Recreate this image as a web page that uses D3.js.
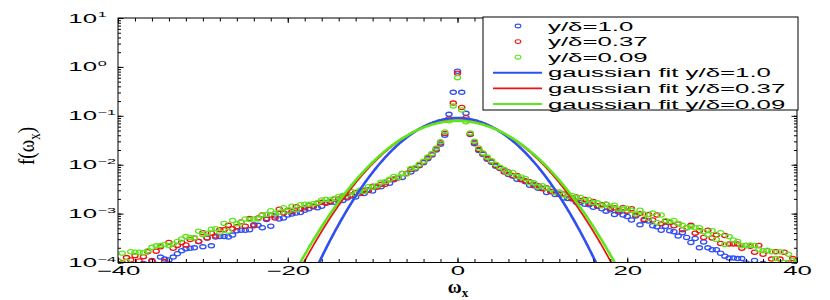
<!DOCTYPE html>
<html lang="en">
<head>
<meta charset="UTF-8">
<title>f(omega_x)</title>
<script src="https://cdnjs.cloudflare.com/ajax/libs/d3/7.8.5/d3.min.js"></script>
<style>
body { margin: 0; background: #fff; }
svg { display: block; font-family: "Liberation Sans", Arial, sans-serif; }
</style>
</head>
<body>
<svg width="830" height="300"></svg>
<script>
// bin centres of omega_x
var omega = [-40,-39.5,-39,-38.5,-38,-37.5,-37,-36.5,-36,-35.5,-35,-34.5,-34,-33.5,-33,-32.5,-32,-31.5,-31,-30.5,
  -30,-29.5,-29,-28.5,-28,-27.5,-27,-26.5,-26,-25.5,-25,-24.5,-24,-23.5,-23,-22.5,-22,-21.5,-21,-20.5,
  -20,-19.5,-19,-18.5,-18,-17.5,-17,-16.5,-16,-15.5,-15,-14.5,-14,-13.5,-13,-12.5,-12,-11.5,-11,-10.5,
  -10,-9.5,-9,-8.5,-8,-7.5,-7,-6.5,-6,-5.5,-5,-4.5,-4,-3.5,-3,-2.5,-2,-1.5,-1,-0.5,
  0,
  0.5,1,1.5,2,2.5,3,3.5,4,4.5,5,5.5,6,6.5,7,7.5,8,8.5,9,9.5,10,
  10.5,11,11.5,12,12.5,13,13.5,14,14.5,15,15.5,16,16.5,17,17.5,18,18.5,19,19.5,20,
  20.5,21,21.5,22,22.5,23,23.5,24,24.5,25,25.5,26,26.5,27,27.5,28,28.5,29,29.5,30,
  30.5,31,31.5,32,32.5,33,33.5,34,34.5,35,35.5,36,36.5,37,37.5,38,38.5,39,39.5,40];

// log10 f(omega_x), one value per bin (null = empty bin)
var logBlue = [null,null,-4.15,null,-4.10,-4.20,-4.02,-4.08,-3.98,-4.04,
  -3.89,-3.93,-3.95,-3.89,-3.82,-3.76,-3.72,-3.71,-3.70,-3.57,
  -3.68,-3.50,-3.66,-3.48,-3.47,-3.47,-3.48,-3.44,-3.35,-3.34,
  -3.34,-3.33,-3.23,-3.24,-3.29,-3.12,-3.26,-3.05,-3.11,-3.09,
  -3.03,-3.01,-2.99,-2.98,-2.93,-2.90,-2.86,-2.88,-2.85,-2.78,
  -2.77,-2.77,-2.74,-2.73,-2.68,-2.64,-2.66,-2.56,-2.59,-2.51,
  -2.54,-2.44,-2.45,-2.36,-2.38,-2.31,-2.26,-2.26,-2.18,-2.15,
  -2.09,-2.02,-1.96,-1.88,-1.80,-1.70,-1.58,-1.40,-0.97,-0.52,
  -0.09,
  -0.52,-0.95,-1.38,-1.57,-1.71,-1.79,-1.89,-1.95,-2.03,-2.08,
  -2.11,-2.20,-2.23,-2.30,-2.30,-2.35,-2.42,-2.40,-2.48,-2.48,
  -2.57,-2.55,-2.61,-2.60,-2.68,-2.69,-2.70,-2.77,-2.77,-2.81,
  -2.82,-2.87,-2.85,-2.90,-2.95,-2.92,-3.02,-2.97,-3.03,-3.06,
  -3.13,-3.05,-3.23,-3.14,-3.15,-3.25,-3.27,-3.34,-3.26,-3.35,
  -3.37,-3.46,-3.39,-3.49,-3.59,-3.51,-3.70,-3.58,-3.70,-3.74,
  -3.74,-3.81,-3.87,-3.91,-3.91,-3.92,-3.92,-4.01,-4.04,-3.96,
  -4.08,-4.02,-4.12,null,null,null,null,null,null,null];

var logRed = [-3.97,-4.01,-3.90,-3.95,-3.86,-3.97,-3.88,-3.78,-3.96,-3.77,
  -3.68,-3.98,-3.59,-3.71,-3.65,-3.59,-3.64,-3.53,-3.50,-3.57,
  -3.39,-3.50,-3.40,-3.46,-3.33,-3.33,-3.24,-3.31,-3.27,-3.17,
  -3.26,-3.10,-3.25,-3.09,-3.03,-3.10,-3.03,-3.09,-2.91,-2.99,
  -2.93,-2.96,-2.86,-2.90,-2.88,-2.83,-2.85,-2.79,-2.77,-2.79,
  -2.76,-2.70,-2.70,-2.64,-2.66,-2.62,-2.57,-2.59,-2.52,-2.53,
  -2.44,-2.46,-2.40,-2.40,-2.31,-2.29,-2.27,-2.18,-2.18,-2.10,
  -2.07,-2.01,-1.94,-1.86,-1.78,-1.68,-1.55,-1.36,-1.06,-0.74,
  -0.13,
  -0.83,-1.04,-1.37,-1.54,-1.69,-1.77,-1.87,-1.93,-2.01,-2.07,
  -2.15,-2.15,-2.22,-2.22,-2.31,-2.33,-2.35,-2.43,-2.43,-2.49,
  -2.47,-2.55,-2.56,-2.61,-2.60,-2.64,-2.69,-2.66,-2.73,-2.71,
  -2.79,-2.75,-2.84,-2.82,-2.81,-2.89,-2.88,-2.94,-2.88,-2.95,
  -2.90,-3.03,-3.00,-3.12,-3.02,-3.13,-3.03,-3.21,-3.16,-3.18,
  -3.25,-3.21,-3.33,-3.29,-3.24,-3.40,-3.35,-3.49,-3.34,-3.50,
  -3.44,-3.61,-3.45,-3.62,-3.62,-3.62,-3.71,-3.65,-3.67,-3.79,
  -3.65,-3.83,-3.76,-3.93,-3.78,-3.93,-3.79,-4.01,-3.92,-3.97];

var logGreen = [-3.97,-3.81,-3.98,-3.78,-3.79,-3.79,-3.80,-3.76,-3.69,-3.66,
  -3.65,-3.63,-3.65,-3.62,-3.57,-3.52,-3.47,-3.49,-3.50,-3.36,
  -3.43,-3.40,-3.32,-3.31,-3.38,-3.20,-3.36,-3.14,-3.21,-3.18,
  -3.11,-3.12,-3.11,-3.11,-3.03,-3.02,-2.94,-3.00,-2.97,-2.88,
  -2.95,-2.85,-2.92,-2.82,-2.81,-2.81,-2.80,-2.78,-2.72,-2.71,
  -2.72,-2.69,-2.65,-2.63,-2.61,-2.55,-2.60,-2.52,-2.55,-2.45,
  -2.46,-2.43,-2.36,-2.35,-2.30,-2.24,-2.26,-2.18,-2.19,-2.08,
  -2.06,-1.99,-1.93,-1.84,-1.77,-1.66,-1.53,-1.33,-1.10,-0.80,
  -0.22,
  -0.88,-1.12,-1.35,-1.52,-1.66,-1.76,-1.84,-1.92,-1.99,-2.05,
  -2.10,-2.17,-2.16,-2.24,-2.25,-2.28,-2.37,-2.37,-2.45,-2.43,
  -2.48,-2.49,-2.57,-2.56,-2.62,-2.65,-2.63,-2.68,-2.67,-2.74,
  -2.72,-2.78,-2.78,-2.84,-2.81,-2.85,-2.83,-2.91,-2.91,-2.89,
  -2.93,-3.01,-2.93,-3.01,-3.10,-2.99,-3.18,-3.03,-3.14,-3.16,
  -3.14,-3.20,-3.24,-3.29,-3.27,-3.29,-3.29,-3.37,-3.43,-3.35,
  -3.53,-3.39,-3.63,-3.47,-3.54,-3.57,-3.66,-3.65,-3.64,-3.65,
  -3.74,-3.76,-3.75,-3.78,-3.92,-3.78,-4.00,-3.83,-3.96,-3.98];

var seriesNames = ['y/δ=1.0', 'y/δ=0.37', 'y/δ=0.09'];
var fitNames = ['gaussian fit y/δ=1.0', 'gaussian fit y/δ=0.37', 'gaussian fit y/δ=0.09'];
// standard deviation of each gaussian fit (zero mean)
var fitSigma = [4.42, 4.95, 5.07];
var colors = ['#2f4ff2', '#f01212', '#5ce61c'];
var fitWidth = [2.6, 1.8, 2.6];

var xTicks = [-40, -20, 0, 20, 40];
var yTicks = [1e-4, 1e-3, 1e-2, 1e-1, 1, 10];
var yExp = ['−4', '−3', '−2', '−1', '0', '1'];

var svg = d3.select('svg');
var pLeft = 118, pRight = 797, pTop = 18, pBottom = 262.5;
var SX = 2.15; // wide lettering of the original

var x = d3.scaleLinear().domain([-40, 40]).range([pLeft, pRight]);
var y = d3.scaleLog().domain([1e-4, 10]).range([pBottom, pTop]);

svg.append('defs').append('clipPath').attr('id', 'plot')
  .append('rect').attr('x', pLeft).attr('y', pTop)
  .attr('width', pRight - pLeft).attr('height', pBottom - pTop);

var series = [logBlue, logRed, logGreen].map(function(arr) {
  return omega.map(function(w, i) { return { w: w, f: arr[i] === null ? null : Math.pow(10, arr[i]) }; })
    .filter(function(d) { return d.f !== null; });
});

// markers
var marks = svg.append('g').attr('clip-path', 'url(#plot)');
series.forEach(function(s, k) {
  marks.append('g').selectAll('ellipse').data(s).enter().append('ellipse')
    .attr('cx', function(d) { return x(d.w); })
    .attr('cy', function(d) { return y(d.f); })
    .attr('rx', 3.1).attr('ry', 2.1)
    .attr('fill', 'none').attr('stroke', colors[k]).attr('stroke-width', 1.3);
});

// gaussian fits
var line = d3.line().x(function(d) { return x(d[0]); }).y(function(d) { return y(d[1]); });
var grid = d3.range(-30, 30.001, 0.1);
fitSigma.forEach(function(s, k) {
  var pts = grid.map(function(w) {
    return [w, Math.exp(-w * w / (2 * s * s)) / (s * Math.sqrt(2 * Math.PI))];
  }).filter(function(p) { return p[1] > 1e-6; });
  marks.append('path').attr('d', line(pts)).attr('fill', 'none')
    .attr('stroke', colors[k]).attr('stroke-width', fitWidth[k]);
});

// frame
svg.append('rect').attr('x', pLeft).attr('y', pTop)
  .attr('width', pRight - pLeft).attr('height', pBottom - pTop)
  .attr('fill', 'none').attr('stroke', '#000').attr('stroke-width', 1);

function noDomain(g) { g.select('.domain').remove(); g.selectAll('line').attr('stroke', '#000'); }

// inward ticks, all four sides
svg.append('g').attr('transform', 'translate(0,' + pBottom + ')')
  .call(d3.axisBottom(x).tickValues(x.ticks(40)).tickSize(-3.5).tickFormat('')).call(noDomain);
svg.append('g').attr('transform', 'translate(0,' + pTop + ')')
  .call(d3.axisTop(x).tickValues(x.ticks(40)).tickSize(-3.5).tickFormat('')).call(noDomain);
svg.append('g').attr('transform', 'translate(0,' + pTop + ')')
  .call(d3.axisTop(x).tickValues(xTicks).tickSize(-5).tickFormat('')).call(noDomain);
svg.append('g').attr('transform', 'translate(' + pLeft + ',0)')
  .call(d3.axisLeft(y).tickValues(y.ticks()).tickSize(-3).tickFormat('')).call(noDomain);
svg.append('g').attr('transform', 'translate(' + pRight + ',0)')
  .call(d3.axisRight(y).tickValues(y.ticks()).tickSize(-3).tickFormat('')).call(noDomain);
svg.append('g').attr('transform', 'translate(' + pLeft + ',0)')
  .call(d3.axisLeft(y).tickValues(yTicks).tickSize(-5.5).tickFormat('')).call(noDomain);
svg.append('g').attr('transform', 'translate(' + pRight + ',0)')
  .call(d3.axisRight(y).tickValues(yTicks).tickSize(-5.5).tickFormat('')).call(noDomain);

// x labels
var xa = svg.append('g').attr('transform', 'translate(0,' + pBottom + ')')
  .call(d3.axisBottom(x).tickValues(xTicks).tickSize(-5).tickPadding(4)
    .tickFormat(function(d) { return d < 0 ? '−' + Math.abs(d) : String(d); }))
  .call(noDomain);
xa.attr('font-family', null).attr('font-size', null);
xa.selectAll('text').attr('font-size', 12).attr('fill', '#000')
  .attr('transform', 'scale(' + SX + ',1)');

// y labels: 10 with exponent
var yl = svg.append('g').selectAll('g').data(yTicks).enter().append('g')
  .attr('transform', function(d) { return 'translate(97,' + (y(d) + 4.5) + ') scale(' + SX + ',1)'; });
yl.append('text').attr('text-anchor', 'end').attr('font-size', 12).text('10');
yl.append('text').attr('x', 0.3).attr('y', -5.5).attr('font-size', 7.5)
  .text(function(d, i) { return yExp[i]; });

// axis titles
var yt = svg.append('text').attr('transform', 'translate(34,146) rotate(-90) scale(1,1.25)')
  .attr('text-anchor', 'middle').attr('font-family', '"Liberation Serif", serif').attr('font-size', 19);
yt.append('tspan').text('f(ω');
yt.append('tspan').attr('font-size', 13).attr('dy', 5).text('x');
yt.append('tspan').attr('dy', -5).text(')');

var xt = svg.append('text').attr('transform', 'translate(458,293)')
  .attr('text-anchor', 'middle').attr('font-family', '"Liberation Serif", serif')
  .attr('font-weight', 'bold').attr('font-size', 19);
xt.append('tspan').text('ω');
xt.append('tspan').attr('font-size', 13).attr('dy', 4).text('x');

// legend
var lg = svg.append('g');
lg.append('rect').attr('x', 483).attr('y', 17).attr('width', 315).attr('height', 93)
  .attr('fill', '#fff').attr('stroke', '#000').attr('stroke-width', 1);
var rowY = function(i) { return 26 + i * 15.6; };
seriesNames.forEach(function(n, k) {
  lg.append('ellipse').attr('cx', 518).attr('cy', rowY(k)).attr('rx', 2.9).attr('ry', 1.9)
    .attr('fill', 'none').attr('stroke', colors[k]).attr('stroke-width', 1.1);
  lg.append('text').attr('transform', 'translate(548,' + (rowY(k) + 4.5) + ') scale(' + SX + ',1)')
    .attr('font-size', 12).text(n);
});
fitNames.forEach(function(n, k) {
  var yy = rowY(k + 3);
  lg.append('line').attr('x1', 493).attr('x2', 542).attr('y1', yy).attr('y2', yy)
    .attr('stroke', colors[k]).attr('stroke-width', k === 1 ? 1.6 : 2);
  lg.append('text').attr('transform', 'translate(548,' + (yy + 4.5) + ') scale(' + SX + ',1)')
    .attr('font-size', 12).text(n);
});
</script>
</body>
</html>
